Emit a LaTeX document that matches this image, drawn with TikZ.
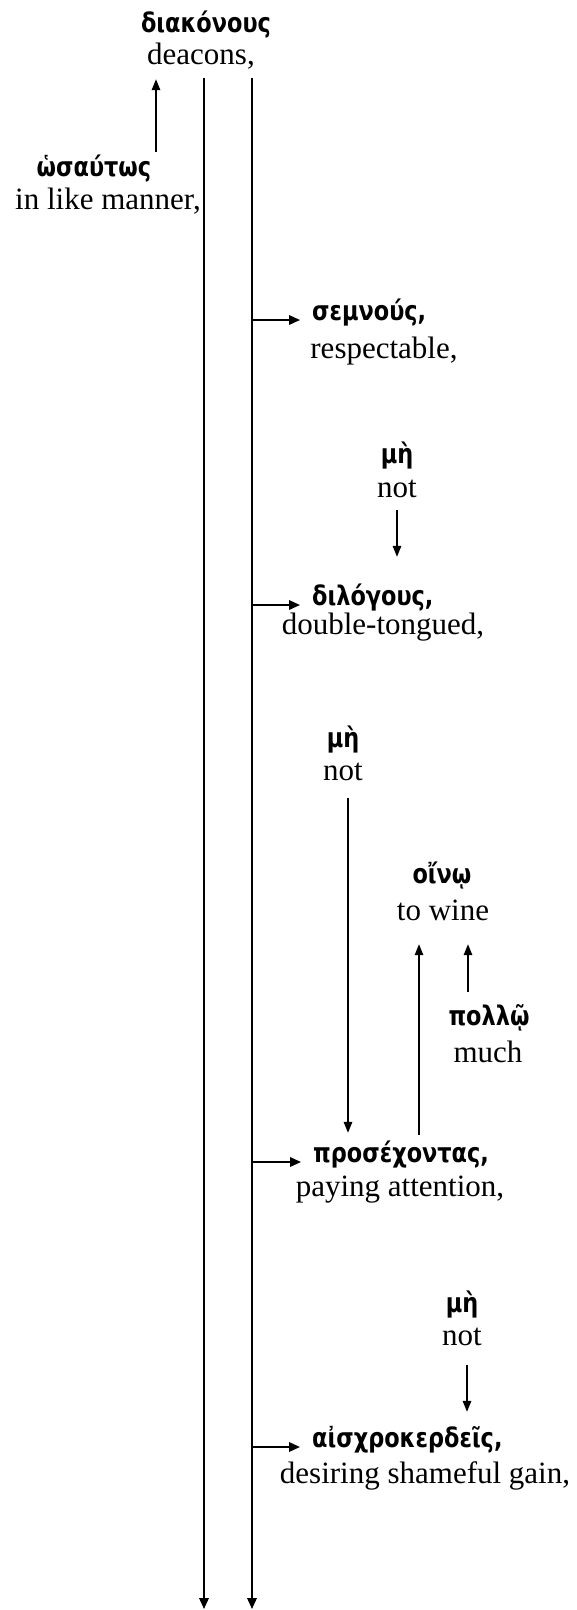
\documentclass[tikz,border=0pt]{standalone}
\usepackage{fontspec}
\setmainfont{Liberation Serif}
\newfontfamily\grkfont[FakeStretch=0.83]{DejaVu Sans}
\usetikzlibrary{arrows.meta}

\tikzset{
	grk/.style={font=\grkfont\bfseries\fontsize{27}{30}\selectfont, anchor=base, inner sep=0pt, text height=18pt, text depth=6pt},
	gloss/.style={font=\fontsize{31}{36}\selectfont, anchor=base, inner sep=0pt, text height=21pt, text depth=7pt},
	arr/.style={line width=1.4pt, -{Triangle[length=11pt,width=8.5pt]}},
	mainarr/.style={line width=1.9pt, -{Triangle[length=11pt,width=9.5pt]}}
}

\begin{document}
\begin{tikzpicture}[x=1pt, y=-1pt]
			%%%%% START %%%%%
			\useasboundingbox (0, 0) rectangle (577, 1610);
			
			\node[grk] (diakonous) at (206, 32) {διακόνους};
			\node[gloss] (deacons) at (201, 64) {deacons,};
			
			\node[grk] (osautos) at (94, 176) {ὡσαύτως};
			\node[gloss] (manner) at (108, 209) {in like manner,};
			
			\node[grk, anchor=base west] (semnous) at (312, 320) {σεμνούς,};
			\node[gloss] (respectable) at (384, 358) {respectable,};
			
			\node[grk] (me1) at (397, 463) {μὴ};
			\node[gloss] (not1) at (397, 497) {not};
			
			\node[grk, anchor=base west] (dilogous) at (312, 605) {διλόγους,};
			\node[gloss] (doubletongued) at (383, 634) {double-tongued,};
			
			\node[grk] (me2) at (343, 747) {μὴ};
			\node[gloss] (not2) at (343, 780) {not};
			
			\node[grk] (oino) at (442, 883) {οἴνῳ};
			\node[gloss] (wine) at (443, 920) {to wine};
			
			\node[grk] (pollo) at (489, 1025) {πολλῷ};
			\node[gloss] (much) at (488, 1062) {much};
			
			\node[grk, anchor=base west] (prosechontas) at (313, 1162) {προσέχοντας,};
			\node[gloss] (attention) at (400, 1196) {paying attention,};
			
			\node[grk] (me3) at (462, 1312) {μὴ};
			\node[gloss] (not3) at (462, 1345) {not};
			
			\node[grk, anchor=base west] (aischro) at (312, 1447) {αἰσχροκερδεῖς,};
			\node[gloss] (shameful) at (425, 1483) {desiring shameful gain,};
			
			% the two long lines
			\coordinate (foot1) at (204, 1609);
			\coordinate (foot2) at (252, 1609);
			\draw[mainarr, shorten <=7pt] (deacons.south -| foot1) -- (foot1);
			\draw[mainarr, shorten <=7pt] (deacons.south -| foot2) -- (foot2);
			
			\draw[arr, shorten <=6pt, shorten >=8pt] ([xshift=62pt]osautos.north) -- ([xshift=62pt]osautos.north |- deacons.south);
			
			\draw[mainarr, shorten >=12pt] (semnous.base west -| foot2) -- (semnous.base west);
			\draw[mainarr, shorten >=12pt] (dilogous.base west -| foot2) -- (dilogous.base west);
			\draw[mainarr, shorten >=12pt] (prosechontas.base west -| foot2) -- (prosechontas.base west);
			\draw[mainarr, shorten >=12pt] (aischro.base west -| foot2) -- (aischro.base west);
			
			\draw[arr, shorten <=6pt, shorten >=30pt] (not1.south) -- (not1.south |- dilogous.north);
			
			\coordinate (me2x) at ([xshift=5pt]not2.south);
			\draw[arr, shorten <=11pt, shorten >=11pt] (me2x) -- (me2x |- prosechontas.north);
			
			\coordinate (wineL) at ([xshift=-24pt]wine.south);
			\coordinate (wineR) at ([xshift=25pt]wine.south);
			\draw[arr, shorten <=9pt, shorten >=17pt] (wineL |- prosechontas.north) -- (wineL);
			\draw[arr, shorten <=15pt, shorten >=17pt] (wineR |- pollo.north) -- (wineR);
			
			\coordinate (me3x) at ([xshift=5pt]not3.south);
			\draw[arr, shorten <=13pt, shorten >=17pt] (me3x) -- (me3x |- aischro.north);
			
			%%%%% END %%%%%
\end{tikzpicture}
\end{document}
